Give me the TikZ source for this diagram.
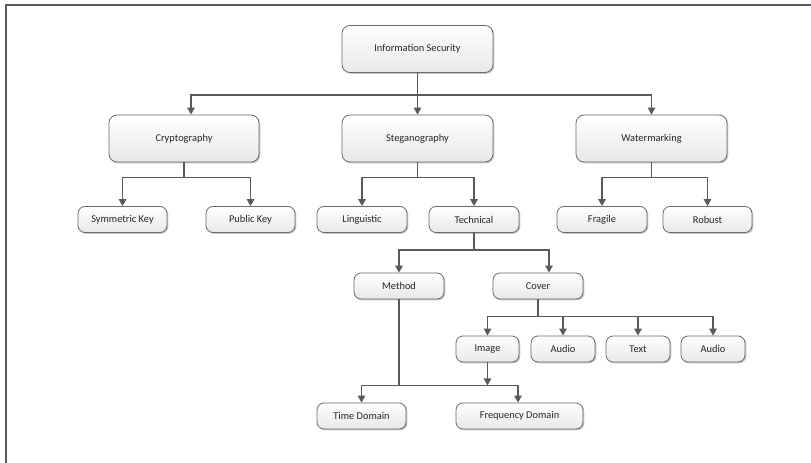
\documentclass[tikz,border=0pt]{standalone}
\usepackage{fontspec}
\setmainfont{Carlito}
\usetikzlibrary{arrows.meta,shadows,calc}
\definecolor{linec}{HTML}{5A5A5A}
\definecolor{boxline}{HTML}{6A6A6A}
\definecolor{txt}{HTML}{262626}
\tikzset{
  box/.style={draw=boxline, line width=0.8pt, rounded corners=8pt,
    top color=white, bottom color=black!9,
    drop shadow={shadow xshift=1.3pt, shadow yshift=-1.3pt, opacity=0.22, fill=black},
    text=txt, font=\fontsize{10.4}{12}\selectfont, inner sep=0pt, anchor=center},
  bigbox/.style={box, minimum width=151pt, minimum height=47pt},
  smallbox/.style={box, rounded corners=7pt, minimum height=26pt},
  arr/.style={draw=linec, line width=1.3pt, -{Triangle[length=7pt,width=7.5pt]}},
  ln/.style={draw=linec, line width=1.3pt},
}
\begin{document}
\begin{tikzpicture}[x=1pt,y=-1pt]
\useasboundingbox (0,0) rectangle (811,463);
\fill[white] (0,0) rectangle (811,463);
\draw[linec, line width=2pt] (6,463) -- (6,4.5) -- (811,4.5);

% level 0
\node[bigbox] (info) at (417.5,49) {Information Security};
% level 1
\node[bigbox, minimum width=150pt] (crypt) at (184,138.5) {Cryptography};
\node[bigbox] (stego) at (417.5,138.5) {Steganography};
\node[bigbox] (water) at (651.5,138.5) {Watermarking};
% level 2
\node[smallbox, minimum width=89pt] (symk) at (122.5,219.5) {Symmetric Key};
\node[smallbox, minimum width=89pt] (pubk) at (250.5,219.5) {Public Key};
\node[smallbox, minimum width=90pt] (ling) at (362,219.5) {Linguistic};
\node[smallbox, minimum width=90pt] (tech) at (474,219.5) {Technical};
\node[smallbox, minimum width=90pt] (frag) at (602,219.5) {Fragile};
\node[smallbox, minimum width=89pt] (robu) at (707.5,219.5) {Robust};
% level 3
\node[smallbox, minimum width=90pt] (meth) at (399,286) {Method};
\node[smallbox, minimum width=90pt] (cover) at (538,286) {Cover};
% level 4
\node[smallbox, minimum width=63pt] (img) at (487.5,349) {Image};
\node[smallbox, minimum width=64pt] (aud1) at (563,349) {Audio};
\node[smallbox, minimum width=64pt] (text) at (638,349) {Text};
\node[smallbox, minimum width=64pt] (aud2) at (713,349) {Audio};
% level 5
\node[smallbox, minimum width=89pt] (time) at (361.5,416) {Time Domain};
\node[smallbox, minimum width=127pt] (freq) at (519.5,416) {Frequency Domain};

% connectors
\coordinate (j0) at ([yshift=-22pt]info.south);
\draw[arr] (info.south) -- (stego.north);
\draw[arr] (j0) -| ([xshift=7pt]crypt.north);
\draw[arr] (j0) -| (water.north);

\coordinate (j1) at ([yshift=-15pt]crypt.south);
\draw[arr] (crypt.south) -- (j1) -| (symk.north);
\draw[arr] (j1) -| (pubk.north);

\coordinate (j2) at ([yshift=-15pt]stego.south);
\draw[arr] (stego.south) -- (j2) -| (ling.north);
\draw[arr] (j2) -| (tech.north);

\coordinate (j3) at ([yshift=-15pt]water.south);
\draw[arr] (water.south) -- (j3) -| (frag.north);
\draw[arr] (j3) -| (robu.north);

\coordinate (j4) at ([yshift=-17pt]tech.south);
\draw[arr] (tech.south) -- (j4) -| (meth.north);
\draw[arr] (j4) -| ([xshift=11pt]cover.north);

\coordinate (j5) at ([yshift=-17pt]cover.south);
\draw[arr] (cover.south) -- (j5) -| (img.north);
\draw[arr] (j5) -| (aud1.north);
\draw[arr] (j5) -| (text.north);
\draw[arr] (j5) -| (aud2.north);

\coordinate (j6) at ([yshift=-86pt]meth.south);
\draw[arr] (meth.south) -- (j6) -| (time.north);
\draw[arr] (j6) -| ([xshift=-1.5pt]freq.north);
\draw[arr] (img.south) -- (img.south |- j6);
\end{tikzpicture}
\end{document}
